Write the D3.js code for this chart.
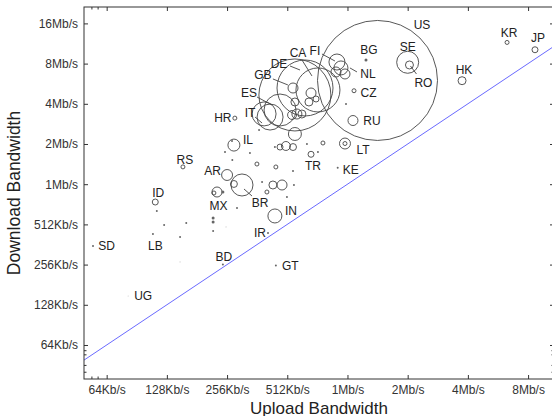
<!DOCTYPE html>
<html><head><meta charset="utf-8">
<script src="https://cdn.jsdelivr.net/npm/d3@7"></script>
<style>
body{margin:0;background:#fff}
svg{display:block}
text{font-family:"Liberation Sans",Arial,Helvetica,sans-serif}
</style>
</head><body>
<svg id="c" width="552" height="416"></svg>
<script>
// ---- data (bandwidth in Kb/s, users = relative bubble weight) ----
const codes = ["US","SE","RO","BG","NL","FI","CZ","RU","LT","KE","TR","HK","KR","JP","HR","IL","RS","AR","BR","MX","IN","IR","BD","GT","ID","LB","SD","UG","GB","DE","CA","ES","IT",
  "","","","","","","","","","","","","","","","","","","","","","","","","","","","","","","","","","","","","","","","","","","","","","","",""];
const upload = [1447,2048,2090,1267,950,907,1104,1091,995,915,673,3830,6430,8870,280,277,154,256,304,228,444,410,244,449,112,109,54.7,82,559,628,729,471,420,
  897,995,1007,995,729,642,772,271,277,220,244,392,370,250,333,272,361,449,383,547,434,482,405,553,510,287,218,218,218,160,124,149,114,253,149,444,471,504,547,559,541,572,606,547,559,673,657,713,680,837,929,642,738,799,444];
const download = [6125,8380,8000,8720,7600,8420,5130,3070,2065,1360,1715,6100,11800,10400,3200,2010,1380,1200,1010,895,592,441,256,252,753,434,353,149,4770,5380,5200,3680,3260,
  7090,6850,4080,2065,1784,2048,2084,2160,1028,880,895,3440,2607,1784,1753,1553,1450,1378,1064,1285,1010,1010,895,1010,821,680,572,534,457,525,507,412,645,490,268,1943,1943,1979,1943,2434,3378,3435,3435,5378,4226,4934,4226,4449,4082,5378,5378,3618,3320,4375,5022];
const users = [3600,121,16,2.25,49,64,4,25,30,1,9,16,4,9,4,36,4,30,121,25,49,1,1,1,9,1,1,0.1,1296,784,484,256,169,
  25,25,1,4,1,1,4,1,12,4,2.25,144,1,1,1,1,4,4,1,1,16,25,4,1,1,1,2.25,2.25,1,1,1,1,1,0.25,0.25,1,9,20,12,42,20,25,16,25,16,25,16,9,9,36,36,9,36,25,1];
const xTickValues = [64,128,256,512,1024,2048,4096,8192];
const xTickLabels = ["64Kb/s","128Kb/s","256Kb/s","512Kb/s","1Mb/s","2Mb/s","4Mb/s","8Mb/s"];
const yTickValues = [64,128,256,512,1024,2048,4096,8192,16384];
const yTickLabels = ["64Kb/s","128Kb/s","256Kb/s","512Kb/s","1Mb/s","2Mb/s","4Mb/s","8Mb/s","16Mb/s"];
const xMinor = [54,58];
const yMinor = [40,45,54,58];

// ---- label layout (pixel offsets from the bubble centre) ----
const labelLayout = {US:[44.5,-55.5],SE:[0,-16],RO:[14,18],BG:[3,-10],NL:[27,6],FI:[-22,-11],CZ:[14.5,2],RU:[19,0],
  LT:[18,6],KE:[13,1.5],TR:[2,11],HK:[2,-11],KR:[2,-9.5],JP:[3,-12],HR:[-12,0],IL:[14,-5],RS:[2,-7],AR:[-14.5,-4],
  BR:[18,18],MX:[1.5,14],IN:[16,-5],IR:[-8,0],BD:[1,-8],GT:[14.5,0],ID:[3,-9],LB:[2.5,12],SD:[13.5,0],UG:[15,0],
  GB:[-32,-20],DE:[-26,-24],CA:[-20,-37],ES:[-31,-17],IT:[-20,-4]};
const leaderLayout = {FI:[-15,-8,-2,-1],NL:[9,0,16,4],RO:[1,1,7,9],BR:[2,4,10,11],CA:[-16,-30,-6,-14],
  DE:[-15,-22,-5,-18],GB:[-22,-16,-7,-10],ES:[-23,-13,-8,-5],IT:[-15,0,-8,6]};

const L=84,R=554,T=7,B=379;
const svg = d3.select("#c");
const x = d3.scaleLog().base(2).domain([49.3,11040]).range([L,R]);
const y = d3.scaleLog().base(2).domain([35.6,21740]).range([B,T]);
const rs = d3.scaleSqrt().domain([0,3600]).range([0,60]);

svg.append("defs").append("clipPath").attr("id","clip")
  .append("rect").attr("x",L).attr("y",T).attr("width",R-L).attr("height",B-T);

const pts = codes.map((c,i)=>({c, u:upload[i], d:download[i], r:rs(users[i])}));

// diagonal download = upload
const dom = x.domain();
svg.append("line").attr("clip-path","url(#clip)")
  .attr("x1",x(dom[0])).attr("y1",y(dom[0])).attr("x2",x(dom[1])).attr("y2",y(dom[1]))
  .attr("stroke","#6a6aff").attr("stroke-width",1);

// axes
const tickColor="#333";
function styleAxis(g){
  g.select(".domain").remove();
  g.selectAll(".tick line").attr("stroke",tickColor);
  g.selectAll("text").attr("font-family","Liberation Sans, Arial, sans-serif").attr("font-size",12).attr("fill","#333");
}
svg.append("g").attr("transform",`translate(0,${B})`)
  .call(d3.axisBottom(x).tickValues(xTickValues).tickFormat((d,i)=>xTickLabels[i]).tickSize(-4).tickPadding(6))
  .call(styleAxis);
svg.append("g").attr("transform",`translate(0,${T})`)
  .call(d3.axisTop(x).tickValues(xTickValues).tickFormat("").tickSize(-4))
  .call(styleAxis);
svg.append("g").attr("transform",`translate(${L},0)`)
  .call(d3.axisLeft(y).tickValues(yTickValues).tickFormat((d,i)=>yTickLabels[i]).tickSize(-4).tickPadding(6))
  .call(styleAxis);
svg.append("g").attr("transform",`translate(${R},0)`)
  .call(d3.axisRight(y).tickValues(yTickValues).tickFormat("").tickSize(-4))
  .call(styleAxis);
// minor ticks
const mg = svg.append("g").attr("stroke",tickColor).attr("stroke-width",1);
xMinor.forEach(v=>{
  mg.append("line").attr("x1",x(v)).attr("x2",x(v)).attr("y1",B).attr("y2",B-2.5);
  mg.append("line").attr("x1",x(v)).attr("x2",x(v)).attr("y1",T).attr("y2",T+2.5);
});
yMinor.forEach(v=>{
  mg.append("line").attr("y1",y(v)).attr("y2",y(v)).attr("x1",L).attr("x2",L+2.5);
  mg.append("line").attr("y1",y(v)).attr("y2",y(v)).attr("x1",R).attr("x2",R-2.5);
});
// frame
svg.append("rect").attr("x",L).attr("y",T).attr("width",R-L).attr("height",B-T)
  .attr("fill","none").attr("stroke","#333").attr("stroke-width",1);

// leader lines
const lg = svg.append("g").attr("stroke","#444").attr("stroke-width",0.9);
pts.filter(p=>leaderLayout[p.c]).forEach(p=>{
  const o=leaderLayout[p.c], cx=x(p.u), cy=y(p.d);
  lg.append("line").attr("x1",cx+o[0]).attr("y1",cy+o[1]).attr("x2",cx+o[2]).attr("y2",cy+o[3]);
});

// bubbles
svg.append("g").attr("clip-path","url(#clip)").selectAll("circle").data(pts).join("circle")
  .attr("cx",p=>x(p.u)).attr("cy",p=>y(p.d)).attr("r",p=>Math.max(p.r,0.6))
  .attr("fill",p=>p.r<0.8?"#ccc":(p.r<1.6?"#666":"none"))
  .attr("stroke",p=>p.r<1.6?"none":"#444").attr("stroke-width",0.9);

// country labels
svg.append("g").selectAll("text").data(pts.filter(p=>p.c)).join("text")
  .attr("x",p=>x(p.u)+labelLayout[p.c][0])
  .attr("y",p=>y(p.d)+labelLayout[p.c][1]+4.3)
  .attr("text-anchor","middle").attr("font-size",12).attr("fill","#222")
  .text(p=>p.c);

// axis titles
svg.append("text").attr("x",(L+R)/2).attr("y",413.5).attr("text-anchor","middle")
  .attr("font-size",17).attr("fill","#222").text("Upload Bandwidth");
svg.append("text").attr("transform",`translate(20,${(T+B)/2}) rotate(-90)`).attr("text-anchor","middle")
  .attr("font-size",17.5).attr("fill","#222").text("Download Bandwidth");
</script>
</body></html>
